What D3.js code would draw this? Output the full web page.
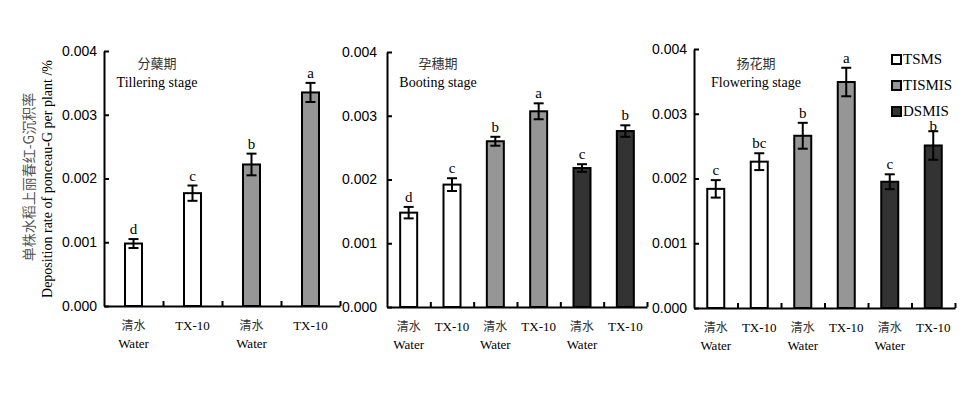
<!DOCTYPE html>
<html>
<head>
<meta charset="utf-8">
<script src="https://cdn.jsdelivr.net/npm/d3@7"></script>
<style>
  body { margin: 0; background: #fff; }
  svg { display: block; }
</style>
</head>
<body>
<div id="chart"></div>
<script>
// data
var systems = ["TSMS", "TISMIS", "DSMIS"];
var systemColors = ["#ffffff", "#969696", "#333333"];

var stageCN = ["分蘖期", "孕穗期", "扬花期"];
var stageEN = ["Tillering stage", "Booting stage", "Flowering stage"];

var tilleringSystem = ["TSMS", "TSMS", "TISMIS", "TISMIS"];
var tilleringTreat = ["清水", "TX-10", "清水", "TX-10"];
var tilleringMean = [0.00098, 0.00177, 0.00222, 0.00335];
var tilleringErr = [0.00007, 0.00012, 0.00017, 0.00015];
var tilleringLetter = ["d", "c", "b", "a"];

var bootingSystem = ["TSMS", "TSMS", "TISMIS", "TISMIS", "DSMIS", "DSMIS"];
var bootingTreat = ["清水", "TX-10", "清水", "TX-10", "清水", "TX-10"];
var bootingMean = [0.00148, 0.00192, 0.00260, 0.00307, 0.00218, 0.00276];
var bootingErr = [0.00009, 0.00010, 0.00007, 0.000125, 0.00006, 0.00009];
var bootingLetter = ["d", "c", "b", "a", "c", "b"];

var floweringSystem = ["TSMS", "TSMS", "TISMIS", "TISMIS", "DSMIS", "DSMIS"];
var floweringTreat = ["清水", "TX-10", "清水", "TX-10", "清水", "TX-10"];
var floweringMean = [0.00184, 0.00226, 0.00266, 0.00349, 0.00195, 0.00251];
var floweringErr = [0.000135, 0.00013, 0.00020, 0.00022, 0.000115, 0.00022];
var floweringLetter = ["c", "bc", "b", "a", "c", "b"];

var yTicks = [0, 0.001, 0.002, 0.003, 0.004];

var width = 972, height = 394;
var serif = "'Liberation Serif', 'Times New Roman', serif";
var sans = "'Liberation Sans', Arial, sans-serif";
var cjk = "'Noto Sans CJK SC', sans-serif";

var svg = d3.select("#chart").append("svg")
    .attr("width", width)
    .attr("height", height);

var color = d3.scaleOrdinal().domain(systems).range(systemColors);

function makeRows(sys, treat, mean, err, letter) {
    return mean.map(function(m, i) {
        return { system: sys[i], treat: treat[i], mean: m, err: err[i], letter: letter[i] };
    });
}

var panels = [
    { rows: makeRows(tilleringSystem, tilleringTreat, tilleringMean, tilleringErr, tilleringLetter),
      x0: 104, x1: 340, yTop: 51, yBot: 306, pad: 7, titleX: 157 },
    { rows: makeRows(bootingSystem, bootingTreat, bootingMean, bootingErr, bootingLetter),
      x0: 387, x1: 647, yTop: 52, yBot: 307, pad: 10, titleX: 438 },
    { rows: makeRows(floweringSystem, floweringTreat, floweringMean, floweringErr, floweringLetter),
      x0: 694, x1: 955, yTop: 49, yBot: 308, pad: 7, titleX: 756 }
];

var barWidth = 17;
var capHalf = 5;

// legend box area (letters falling under it get pushed below)
var legendX = 892, legendY = 50, legendStep = 26;
var legendBottom = legendY + legendStep * (systems.length - 1) + 16;

panels.forEach(function(p, pi) {
    var n = p.rows.length;
    var x = d3.scaleBand().domain(d3.range(n)).range([p.x0, p.x1]).padding(0);
    var xb = d3.scaleLinear().domain([0, n]).range([p.x0, p.x1]);
    var y = d3.scaleLinear().domain([0, 0.004]).range([p.yBot, p.yTop]);
    var cx = function(i) { return x(i) + x.bandwidth() / 2; };

    var g = svg.append("g");

    // bars
    g.selectAll("rect.bar")
        .data(p.rows)
        .enter().append("rect")
        .attr("class", "bar")
        .attr("x", function(d, i) { return cx(i) - barWidth / 2; })
        .attr("y", function(d) { return y(d.mean); })
        .attr("width", barWidth)
        .attr("height", function(d) { return p.yBot - y(d.mean); })
        .attr("fill", function(d) { return color(d.system); })
        .attr("stroke", "#000")
        .attr("stroke-width", 2);

    // error bars
    var eb = g.selectAll("g.err")
        .data(p.rows)
        .enter().append("g")
        .attr("class", "err")
        .attr("stroke", "#000")
        .attr("stroke-width", 2);

    eb.append("line")
        .attr("x1", function(d, i) { return cx(i); })
        .attr("x2", function(d, i) { return cx(i); })
        .attr("y1", function(d) { return y(d.mean + d.err); })
        .attr("y2", function(d) { return y(d.mean - d.err); });

    [1, -1].forEach(function(s) {
        eb.append("line")
            .attr("x1", function(d, i) { return cx(i) - capHalf; })
            .attr("x2", function(d, i) { return cx(i) + capHalf; })
            .attr("y1", function(d) { return y(d.mean + s * d.err); })
            .attr("y2", function(d) { return y(d.mean + s * d.err); });
    });

    // significance letters
    g.selectAll("text.letter")
        .data(p.rows)
        .enter().append("text")
        .attr("class", "letter")
        .attr("x", function(d, i) { return cx(i); })
        .attr("y", function(d, i) {
            var ty = y(d.mean + d.err) - 5;
            if (cx(i) > legendX - 5 && ty - 11 < legendBottom) ty = y(d.mean + d.err);
            return ty;
        })
        .attr("text-anchor", "middle")
        .style("font-family", serif)
        .style("font-size", "15px")
        .text(function(d) { return d.letter; });

    // y axis
    var yAxis = d3.axisLeft(y)
        .tickValues(yTicks)
        .tickFormat(d3.format(".3f"))
        .tickSizeInner(-5)
        .tickSizeOuter(0)
        .tickPadding(p.pad);

    var ya = svg.append("g")
        .attr("transform", "translate(" + p.x0 + ",0)")
        .call(yAxis);
    ya.select(".domain").attr("stroke-width", 2);
    ya.selectAll(".tick line").attr("stroke-width", 2);
    ya.selectAll("text")
        .style("font-family", sans)
        .style("font-size", "14px")
        .attr("fill", "#000");

    // x axis with ticks at category boundaries
    var xAxis = d3.axisBottom(xb)
        .tickValues(d3.range(1, n + 1))
        .tickFormat("")
        .tickSizeInner(-5)
        .tickSizeOuter(0);

    var xa = svg.append("g")
        .attr("transform", "translate(0," + p.yBot + ")")
        .call(xAxis);
    xa.select(".domain").attr("stroke-width", 2);
    xa.selectAll(".tick line").attr("stroke-width", 2);

    // category labels
    var cl = svg.append("g").selectAll("g")
        .data(p.rows)
        .enter().append("g")
        .attr("transform", function(d, i) {
            return "translate(" + cx(i) + "," + p.yBot + ")";
        });

    cl.append("text")
        .attr("y", 24)
        .attr("text-anchor", "middle")
        .style("font-family", function(d) { return d.treat === "TX-10" ? serif : cjk; })
        .style("font-size", function(d) { return d.treat === "TX-10" ? "13px" : "12px"; })
        .attr("fill", function(d) { return d.treat === "TX-10" ? "#000" : "#333"; })
        .text(function(d) { return d.treat; });

    cl.filter(function(d) { return d.treat === "清水"; })
        .append("text")
        .attr("y", 42)
        .attr("text-anchor", "middle")
        .style("font-family", serif)
        .style("font-size", "13px")
        .text("Water");

    // stage title
    svg.append("text")
        .attr("x", p.titleX)
        .attr("y", 68)
        .attr("text-anchor", "middle")
        .style("font-family", cjk)
        .style("font-size", "13px")
        .attr("fill", "#333")
        .text(stageCN[pi]);

    svg.append("text")
        .attr("x", p.titleX)
        .attr("y", 87)
        .attr("text-anchor", "middle")
        .style("font-family", serif)
        .style("font-size", "14px")
        .text(stageEN[pi]);
});

// legend
var legend = svg.append("g")
    .attr("transform", "translate(" + legendX + "," + legendY + ")");

var keys = legend.selectAll("g")
    .data(systems)
    .enter().append("g")
    .attr("transform", function(d, i) { return "translate(0," + (i * legendStep) + ")"; });

keys.append("rect")
    .attr("x", 0)
    .attr("y", 5)
    .attr("width", 9)
    .attr("height", 9)
    .attr("fill", function(d) { return color(d); })
    .attr("stroke", "#000")
    .attr("stroke-width", 2);

keys.append("text")
    .attr("x", 11)
    .attr("y", 14)
    .style("font-family", serif)
    .style("font-size", "15px")
    .text(function(d) { return d; });

// y axis title
svg.append("text")
    .attr("transform", "translate(34,177) rotate(-90)")
    .attr("text-anchor", "middle")
    .style("font-family", cjk)
    .style("font-size", "14px")
    .attr("fill", "#555")
    .text("单株水稻上丽春红-G沉积率");

svg.append("text")
    .attr("transform", "translate(52,179) rotate(-90)")
    .attr("text-anchor", "middle")
    .style("font-family", serif)
    .style("font-size", "14px")
    .text("Deposition rate of ponceau-G per plant /%");
</script>
</body>
</html>
